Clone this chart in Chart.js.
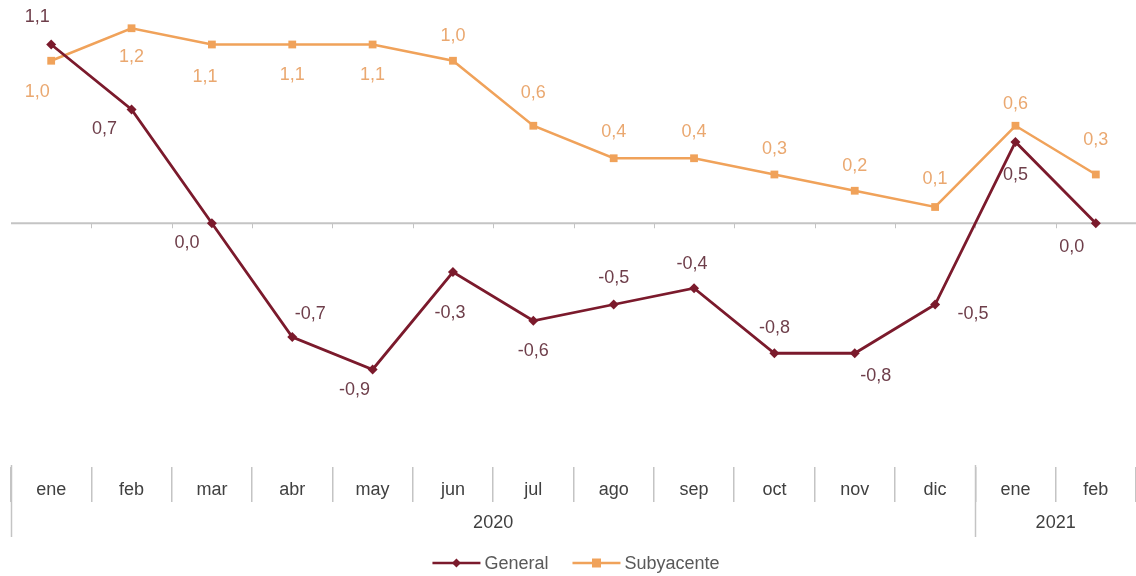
<!DOCTYPE html>
<html>
<head>
<meta charset="utf-8">
<script src="https://cdn.jsdelivr.net/npm/chart.js@4"></script>
<style>
  body { margin: 0; background: #fff; }
</style>
</head>
<body>
<canvas id="chart" width="1136" height="576"></canvas>
<script>
const categories = ['ene', 'feb', 'mar', 'abr', 'may', 'jun', 'jul', 'ago', 'sep', 'oct', 'nov', 'dic', 'ene', 'feb'];
const yearLabels = ['2020', '2021'];
const yearStart = [0, 12];
const yearEnd = [11, 13];
const general = [1.1, 0.7, 0.0, -0.7, -0.9, -0.3, -0.6, -0.5, -0.4, -0.8, -0.8, -0.5, 0.5, 0.0];
const subyacente = [1.0, 1.2, 1.1, 1.1, 1.1, 1.0, 0.6, 0.4, 0.4, 0.3, 0.2, 0.1, 0.6, 0.3];

// label offsets from each point (dx, dy), px
const generalLabelPos = [[-14,-27],[-27,20],[-25,20],[18,-23],[-18,21],[-3,41],[0,30],[0,-26],[-2,-24],[0,-25],[21,23],[38,10],[0,33],[-24,24]];
const subyLabelPos = [[-14,31],[0,29],[-7,33],[0,31],[0,31],[0,-25],[0,-33],[0,-26],[0,-26],[0,-25],[0,-25],[0,-28],[0,-22],[0,-34]];

const FONT = 'Liberation Sans, Arial, sans-serif';
const colGeneral = '#7b1a2c';
const colSuby = '#f0a25a';

const fmt = v => v.toFixed(1).replace('.', ',');

const decor = {
  id: 'decor',
  beforeDatasetsDraw(chart) {
    const { ctx, chartArea: a, scales: { x, y } } = chart;
    const y0 = y.getPixelForValue(0);
    const step = x.getPixelForValue(1) - x.getPixelForValue(0);
    ctx.save();
    ctx.strokeStyle = '#c4c4c4';
    ctx.lineWidth = 2;
    ctx.beginPath();
    ctx.moveTo(a.left, y0);
    ctx.lineTo(a.right, y0);
    ctx.stroke();
    ctx.lineWidth = 1;
    for (let i = 1; i < categories.length; i++) {
      const bx = Math.round(x.getPixelForValue(i) - step / 2) + 0.5;
      ctx.beginPath();
      ctx.moveTo(bx, y0);
      ctx.lineTo(bx, y0 + 5);
      ctx.stroke();
    }
    ctx.restore();
  },
  afterDatasetsDraw(chart) {
    const { ctx } = chart;
    const sets = [[generalLabelPos, '#6e3e4a'], [subyLabelPos, '#eaa870']];
    ctx.save();
    ctx.font = '18px ' + FONT;
    ctx.textAlign = 'center';
    ctx.textBaseline = 'middle';
    chart.data.datasets.forEach((ds, di) => {
      const meta = chart.getDatasetMeta(di);
      const [pos, col] = sets[di];
      ctx.fillStyle = col;
      meta.data.forEach((pt, i) => {
        ctx.fillText(fmt(ds.data[i]), pt.x + pos[i][0], pt.y + pos[i][1]);
      });
    });
    ctx.restore();
  },
  afterDraw(chart) {
    const { ctx, chartArea: a, scales: { x } } = chart;
    const step = x.getPixelForValue(1) - x.getPixelForValue(0);
    const edge = i => x.getPixelForValue(i) - step / 2;
    ctx.save();
    // year group separators and labels
    ctx.strokeStyle = '#c4c4c4';
    ctx.lineWidth = 1.5;
    yearStart.forEach(s => {
      const bx = Math.round(edge(s)) + 0.5;
      ctx.beginPath();
      ctx.moveTo(bx, a.bottom - 2);
      ctx.lineTo(bx, a.bottom + 70);
      ctx.stroke();
    });
    ctx.fillStyle = '#404040';
    ctx.font = '18px ' + FONT;
    ctx.textAlign = 'center';
    ctx.textBaseline = 'middle';
    yearLabels.forEach((lab, k) => {
      const cx = (edge(yearStart[k]) + edge(yearEnd[k] + 1)) / 2;
      ctx.fillText(lab, cx, a.bottom + 56);
    });
    // legend
    const items = chart.data.datasets.map(d => ({ label: d.label, color: d.borderColor, style: d.pointStyle }));
    const lineW = 48, gap = 4, itemGap = 24;
    const widths = items.map(it => lineW + gap + ctx.measureText(it.label).width);
    const total = widths.reduce((s, w) => s + w, 0) + itemGap * (items.length - 1);
    let lx = 576 - total / 2;
    const ly = 563;
    ctx.textAlign = 'left';
    items.forEach((it, k) => {
      ctx.strokeStyle = it.color;
      ctx.fillStyle = it.color;
      ctx.lineWidth = 2.5;
      ctx.beginPath();
      ctx.moveTo(lx, ly);
      ctx.lineTo(lx + lineW, ly);
      ctx.stroke();
      const mx = lx + lineW / 2;
      ctx.beginPath();
      if (it.style === 'rect') {
        ctx.rect(mx - 4.5, ly - 4.5, 9, 9);
      } else {
        ctx.moveTo(mx, ly - 4.5); ctx.lineTo(mx + 4.5, ly); ctx.lineTo(mx, ly + 4.5); ctx.lineTo(mx - 4.5, ly);
        ctx.closePath();
      }
      ctx.fill();
      ctx.fillStyle = '#595959';
      ctx.fillText(it.label, lx + lineW + gap, ly + 1);
      lx += widths[k] + itemGap;
    });
    ctx.restore();
  }
};

new Chart(document.getElementById('chart').getContext('2d'), {
  type: 'line',
  data: {
    labels: categories,
    datasets: [
      {
        label: 'General',
        data: general,
        borderColor: colGeneral,
        backgroundColor: colGeneral,
        borderWidth: 2.8,
        pointStyle: 'rectRot',
        pointRadius: 5,
        pointBorderWidth: 0,
        tension: 0,
        clip: false
      },
      {
        label: 'Subyacente',
        data: subyacente,
        borderColor: colSuby,
        backgroundColor: colSuby,
        borderWidth: 2.5,
        pointStyle: 'rect',
        pointRadius: 5.5,
        pointBorderWidth: 0,
        tension: 0,
        clip: false
      }
    ]
  },
  options: {
    responsive: false,
    animation: false,
    layout: { autoPadding: false, padding: { top: 12, left: 11, right: 0, bottom: 34 } },
    plugins: {
      legend: { display: false },
      tooltip: { enabled: false }
    },
    scales: {
      x: {
        offset: true,
        border: { display: false },
        grid: {
          offset: true,
          drawOnChartArea: false,
          drawTicks: true,
          tickLength: 35,
          color: '#c4c4c4',
          lineWidth: 1.5
        },
        ticks: {
          color: '#404040',
          font: { size: 18, family: FONT },
          padding: -23,
          maxRotation: 0,
          autoSkip: false
        },
        afterFit(scale) { scale.height = 75; }
      },
      y: {
        display: false,
        min: -1.5,
        max: 1.3
      }
    }
  },
  plugins: [decor]
});
</script>
</body>
</html>
